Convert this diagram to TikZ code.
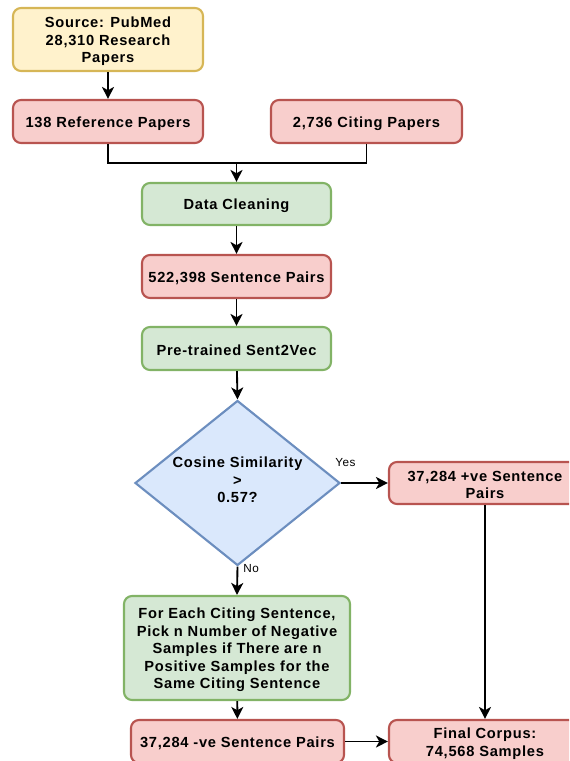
\documentclass[tikz,border=0pt]{standalone}
\usepackage{fontspec}
\setmainfont{Liberation Sans}[LetterSpace=5]
\usetikzlibrary{shapes.geometric,arrows.meta}

\definecolor{ylwfill}{HTML}{FFF2CC}\definecolor{ylwline}{HTML}{D6B656}
\definecolor{redfill}{HTML}{F8CECC}\definecolor{redline}{HTML}{B85450}
\definecolor{grnfill}{HTML}{D5E8D4}\definecolor{grnline}{HTML}{82B366}
\definecolor{blufill}{HTML}{DAE8FC}\definecolor{bluline}{HTML}{6C8EBF}

\tikzset{
  lbl/.style={align=center, inner sep=0pt, yshift=-1.5pt,
    font=\fontsize{11pt}{13.1pt}\selectfont\bfseries},
  box/.style={draw, line width=1.6pt, rounded corners=6pt, inner sep=0pt,
    label={[lbl]center:{#1}}},
  ybox/.style={box={#1}, fill=ylwfill, draw=ylwline},
  rbox/.style={box={#1}, fill=redfill, draw=redline},
  gbox/.style={box={#1}, fill=grnfill, draw=grnline},
  flow/.style={line width=1.4pt, -{Stealth[length=9pt,width=9pt,inset=2.5pt]}},
  link/.style={line width=1.4pt},
  tag/.style={font=\fontsize{8.8pt}{10pt}\selectfont, inner sep=0pt}
}

\begin{document}
\begin{tikzpicture}[x=0.75pt,y=-0.75pt]
\useasboundingbox (0,0) rectangle (569,761);
\clip (0,0) rectangle (569,761);

% boxes
\node[ybox={Source: PubMed\\28,310 Research\\Papers},
  minimum width=142.5pt, minimum height=47.25pt] (src) at (108,39.5) {};
\node[rbox={138 Reference Papers},
  minimum width=142.5pt, minimum height=32.25pt] (ref) at (108,121.5) {};
\node[rbox={2,736 Citing Papers},
  minimum width=143.25pt, minimum height=32.25pt] (cit) at (366.5,121.5) {};
\node[gbox={Data Cleaning},
  minimum width=141.75pt, minimum height=31.5pt] (clean) at (236.5,204) {};
\node[rbox={522,398 Sentence Pairs},
  minimum width=141.75pt, minimum height=32.25pt] (pairs) at (236.5,276.5) {};
\node[gbox={Pre-trained Sent2Vec},
  minimum width=141.75pt, minimum height=32.25pt] (s2v) at (236.5,348.5) {};
\node[diamond, draw=bluline, fill=blufill, line width=1.6pt, inner sep=0pt,
  minimum width=153.75pt, minimum height=123.75pt,
  label={[lbl, yshift=3.75pt]center:{Cosine Similarity\\>\\0.57?}}] (dec) at (237.5,483) {};
\node[rbox={37,284 +ve Sentence\\Pairs},
  minimum width=144pt, minimum height=31.5pt] (pos) at (485,483) {};
\node[gbox={For Each Citing Sentence,\\Pick n Number of Negative\\Samples if There are n\\Positive Samples for the\\Same Citing Sentence},
  minimum width=169.5pt, minimum height=78pt] (pick) at (237,648) {};
\node[rbox={37,284 -ve Sentence Pairs},
  minimum width=159.75pt, minimum height=32.25pt] (neg) at (237.5,741.5) {};
\node[rbox={Final Corpus:\\74,568 Samples},
  minimum width=144pt, minimum height=32.25pt] (fin) at (485,741.5) {};

% connectors
\coordinate (join) at (236.5,163);
\draw[flow] (src) -- (ref);
\draw[link] (ref.south) |- (join);
\draw[link] (cit.south) |- (join);
\draw[flow] (join) -- (clean);
\draw[flow] (clean) -- (pairs);
\draw[flow] (pairs) -- (s2v);
\draw[flow] (s2v) -- (dec.north);
\draw[flow] (dec.east) -- (pos.west);
\draw[flow] (dec.south) -- (pick.north);
\draw[flow] (pick) -- (neg);
\draw[flow] (neg) -- (fin);
\draw[flow] (pos) -- (fin);

% branch labels
\node[tag, anchor=south west] at (335,467) {Yes};
\node[tag, anchor=north west] at (243,564) {No};
\end{tikzpicture}
\end{document}
